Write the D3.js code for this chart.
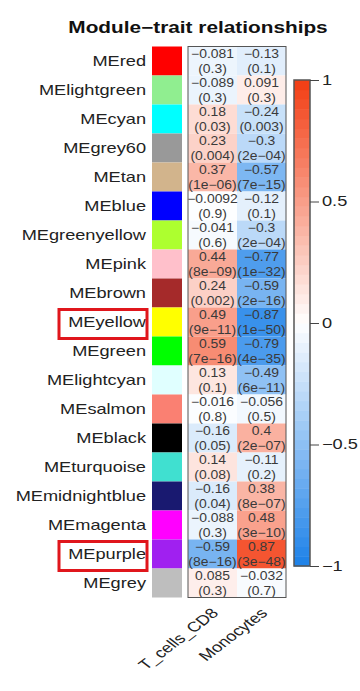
<!DOCTYPE html>
<html>
<head>
<meta charset="utf-8">
<script src="https://cdn.jsdelivr.net/npm/d3@7"></script>
<style>
  html, body { margin: 0; padding: 0; background: #fff; }
  svg { display: block; }
  text { font-family: "Liberation Sans", Arial, Helvetica, sans-serif; }
</style>
</head>
<body>
<svg id="chart" width="360" height="691"></svg>
<script>
// ---- data ----
const modules = ["MEred","MElightgreen","MEcyan","MEgrey60","MEtan","MEblue","MEgreenyellow","MEpink","MEbrown","MEyellow","MEgreen","MElightcyan","MEsalmon","MEblack","MEturquoise","MEmidnightblue","MEmagenta","MEpurple","MEgrey"];
const moduleColors = ["#FF0000","#90EE90","#00FFFF","#999999","#D2B48C","#0000FF","#ADFF2F","#FFC0CB","#A52A2A","#FFFF00","#00FF00","#E0FFFF","#FA8072","#000000","#40E0D0","#191970","#FF00FF","#A020F0","#BEBEBE"];
const traits = ["T_cells_CD8","Monocytes"];
const corTcells = [-0.081,-0.089,0.18,0.23,0.37,-0.0092,-0.041,0.44,0.24,0.49,0.59,0.13,-0.016,-0.16,0.14,-0.16,-0.088,-0.59,0.085];
const pTcells = ["0.3","0.3","0.03","0.004","1e−06","0.9","0.6","8e−09","0.002","9e−11","7e−16","0.1","0.8","0.05","0.08","0.04","0.3","8e−16","0.3"];
const corMono = [-0.13,0.091,-0.24,-0.3,-0.57,-0.12,-0.3,-0.77,-0.59,-0.87,-0.79,-0.49,-0.056,0.4,-0.11,0.38,0.48,0.87,-0.032];
const pMono = ["0.1","0.3","0.003","2e−04","7e−15","0.1","2e−04","1e−32","2e−16","1e−50","4e−35","6e−11","0.5","2e−07","0.2","8e−07","3e−10","3e−48","0.7"];
const highlighted = ["MEyellow","MEpurple"];
const legendTicks = [-1,-0.5,0,0.5,1];
const title = "Module−trait relationships";

// ---- layout ----
const S = 1.3;   // horizontal text stretch of the reference
const SC = 1.16; // stretch for cell texts (kept inside the cells)
const svg = d3.select("#chart");
const topY = 46.5, rowH = 29;
const y = d3.scaleBand().domain(modules).range([topY, topY + rowH * modules.length]).padding(0);
const x = d3.scaleBand().domain(traits).range([188, 286]).padding(0);
const color = d3.scaleLinear().domain([-1, 0, 1]).range(["#1b80e8", "#ffffff", "#f23c12"]).clamp(true);
const fmt = v => (v < 0 ? "−" : "") + String(Math.abs(v));

const cells = [];
modules.forEach((m, i) => {
  cells.push({m, t: traits[0], r: corTcells[i], p: pTcells[i]});
  cells.push({m, t: traits[1], r: corMono[i], p: pMono[i]});
});

// title
svg.append("text")
  .attr("transform", `translate(198,33) scale(${S},1)`)
  .attr("text-anchor", "middle")
  .attr("font-weight", "bold")
  .attr("font-size", 16)
  .attr("fill", "#111")
  .text(title);

// module labels
svg.append("g").selectAll("text").data(modules).join("text")
  .attr("transform", d => `translate(146,${y(d) + rowH / 2}) scale(${S},1)`)
  .attr("text-anchor", "end")
  .attr("dominant-baseline", "central")
  .attr("font-size", 14)
  .attr("fill", "#222")
  .text(d => d);

// color swatches
svg.append("g").selectAll("rect").data(modules).join("rect")
  .attr("x", 152).attr("width", 30)
  .attr("y", d => y(d)).attr("height", y.bandwidth())
  .attr("fill", (d, i) => moduleColors[i]);

// heatmap cells
svg.append("g").selectAll("rect").data(cells).join("rect")
  .attr("x", d => x(d.t)).attr("width", x.bandwidth())
  .attr("y", d => y(d.m)).attr("height", y.bandwidth())
  .attr("fill", d => color(d.r));

const lbl = svg.append("g").selectAll("g").data(cells).join("g");
lbl.append("text")
  .attr("transform", d => `translate(${x(d.t) + x.bandwidth() / 2},${y(d.m) + rowH / 2 - 7.5}) scale(${SC},1)`)
  .attr("text-anchor", "middle").attr("dominant-baseline", "central")
  .attr("font-size", 12).attr("fill", "#3a3a3a")
  .text(d => fmt(d.r));
lbl.append("text")
  .attr("transform", d => `translate(${x(d.t) + x.bandwidth() / 2},${y(d.m) + rowH / 2 + 8}) scale(${SC},1)`)
  .attr("text-anchor", "middle").attr("dominant-baseline", "central")
  .attr("font-size", 12).attr("fill", "#3a3a3a")
  .text(d => "(" + d.p + ")");

// heatmap border
svg.append("rect")
  .attr("x", 188).attr("y", topY)
  .attr("width", 98).attr("height", rowH * modules.length)
  .attr("fill", "none").attr("stroke", "#555").attr("stroke-width", 1);

// highlight boxes
svg.append("g").selectAll("rect").data(highlighted).join("rect")
  .attr("x", 59).attr("width", 88)
  .attr("y", d => y(d) + 2).attr("height", rowH)
  .attr("fill", "none").attr("stroke", "#e0161c").attr("stroke-width", 3);

// trait labels
svg.append("g").selectAll("text").data(traits).join("text")
  .attr("transform", d => `translate(${x(d) + x.bandwidth() / 2 + 7},614) scale(${S},1) rotate(-45)`)
  .attr("text-anchor", "end")
  .attr("font-size", 14)
  .attr("fill", "#222")
  .text(d => d);

// color legend
const ly = d3.scaleLinear().domain([-1, 1]).range([566, 80]);
const nSteps = 50;
const steps = d3.range(nSteps).map(i => -1 + (i + 0.5) * 2 / nSteps);
svg.append("g").selectAll("rect").data(steps).join("rect")
  .attr("x", 294).attr("width", 16)
  .attr("y", d => ly(d + 1 / nSteps))
  .attr("height", d => ly(d - 1 / nSteps) - ly(d + 1 / nSteps) + 0.5)
  .attr("fill", d => color(d));
svg.append("rect")
  .attr("x", 294).attr("y", 80).attr("width", 16).attr("height", 486)
  .attr("fill", "none").attr("stroke", "#555").attr("stroke-width", 1.5);

const ax = svg.append("g").attr("transform", "translate(310,0)")
  .call(d3.axisRight(ly).tickValues(legendTicks).tickSize(9).tickPadding(3)
    .tickFormat(d => (d < 0 ? "−" : "") + Math.abs(d)));
ax.select(".domain").remove();
ax.selectAll("line").attr("stroke", "#444");
ax.selectAll("text")
  .attr("font-size", 14).attr("fill", "#222")
  .attr("font-family", "Liberation Sans, Arial, sans-serif")
  .attr("transform", function() { const xx = +d3.select(this).attr("x"); return `translate(${xx},0) scale(${S},1) translate(${-xx},0)`; });
</script>
</body>
</html>
